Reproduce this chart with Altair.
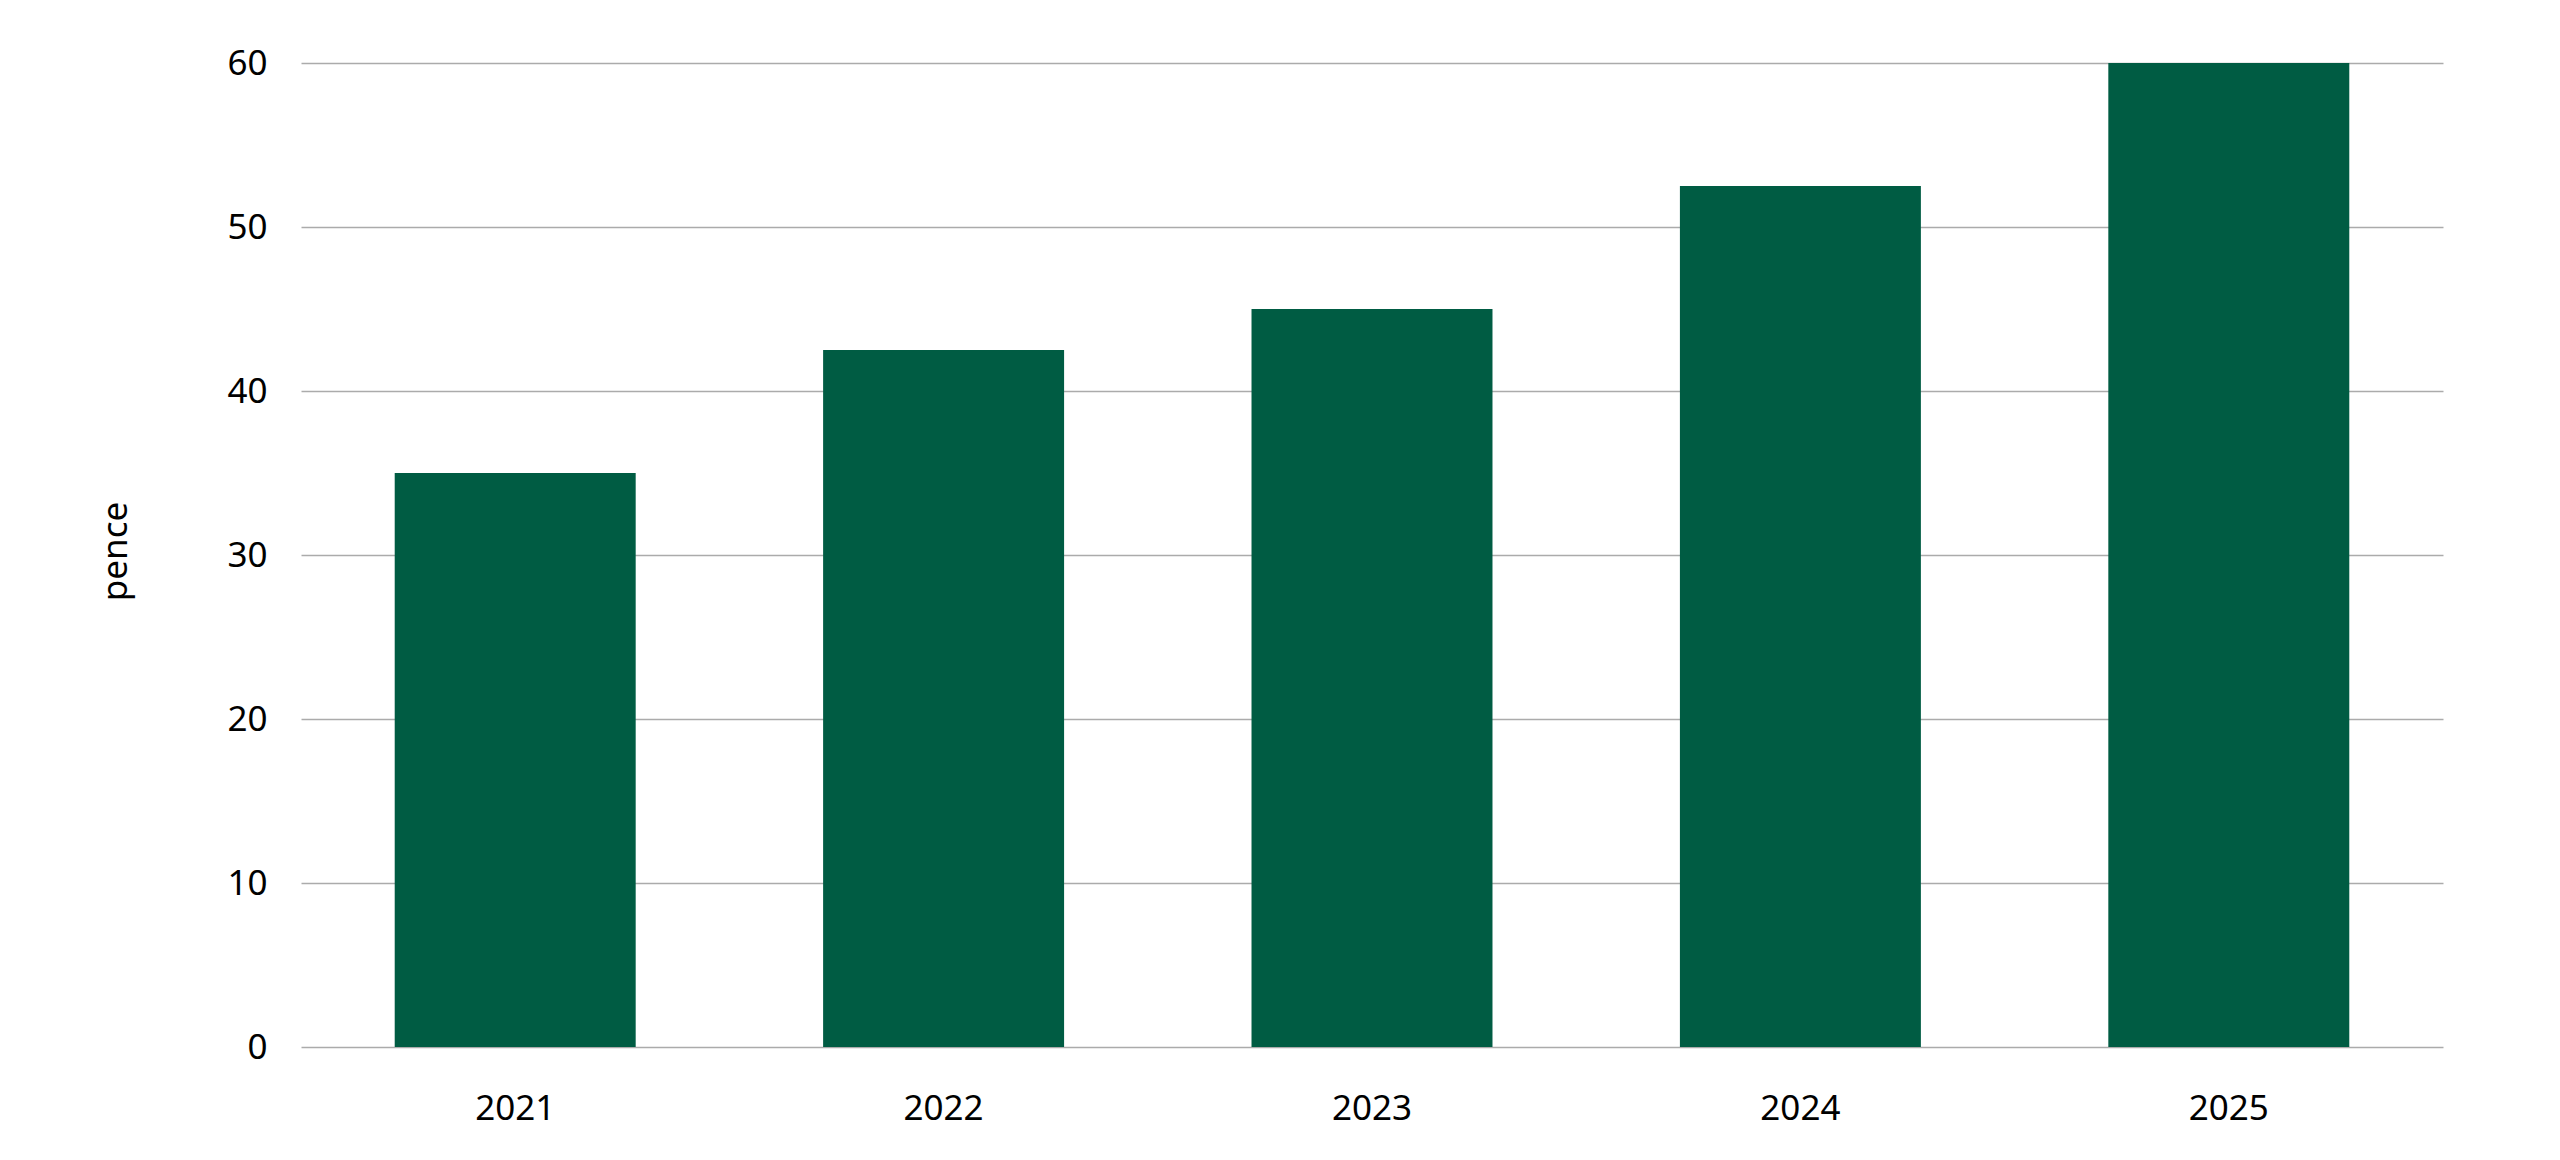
import altair as alt
import pandas as pd

years = ["2021", "2022", "2023", "2024", "2025"]
pence = [35, 42.5, 45, 52.5, 60]

df = pd.DataFrame({"year": years, "pence": pence})

bars = alt.Chart(df).mark_bar(color="#005c43").encode(
    x=alt.X(
        "year:N",
        sort=years,
        scale=alt.Scale(paddingInner=0.4375, paddingOuter=0.21875),
        axis=alt.Axis(
            title=None,
            labelAngle=0,
            domain=False,
            ticks=False,
            grid=False,
            labelPadding=44,
            labelFontSize=35,
            labelFont="Noto Sans",
            labelColor="#000000",
        ),
    ),
    y=alt.Y(
        "pence:Q",
        scale=alt.Scale(domain=[0, 60], nice=False),
        axis=alt.Axis(
            title="pence",
            values=[0, 10, 20, 30, 40, 50, 60],
            domain=False,
            ticks=False,
            labelPadding=34,
            labelFontSize=35,
            labelFont="Noto Sans",
            labelColor="#000000",
            gridColor="#ababab",
            gridWidth=1.5,
            titleFont="Noto Sans",
            titleFontSize=35,
            titleFontWeight="normal",
            titleColor="#000000",
            titleAngle=-90,
            titleX=-186,
            titleY=488,
            titleAlign="center",
            titleBaseline="middle",
        ),
    ),
)

chart = bars.properties(
    width=2142,
    height=984,
    background="#ffffff",
    autosize=alt.AutoSizeParams(type="none"),
    padding={"left": 293, "top": 55, "right": 100, "bottom": 100},
).configure_view(stroke=None)

chart.save("out.html", embed_options={"renderer": "svg", "actions": False})
